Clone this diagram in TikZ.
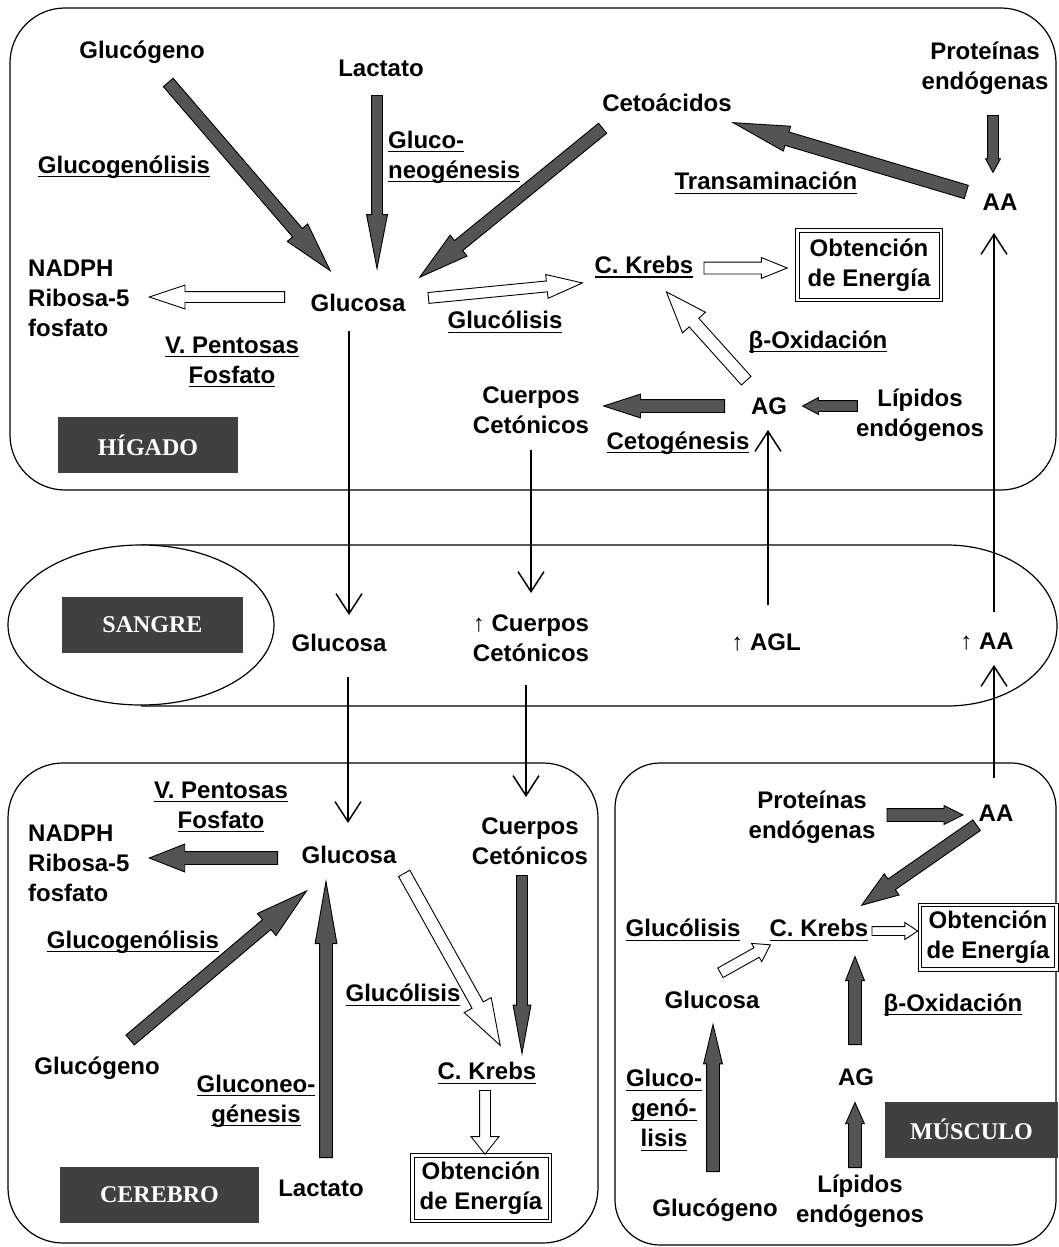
\documentclass[tikz,border=0pt]{standalone}
\usepackage{fontspec}
\setmainfont{Liberation Sans}
\newfontfamily\organfont{Liberation Serif}
\usetikzlibrary{shapes.arrows, arrows.meta, calc}

\definecolor{arrowgray}{gray}{0.33}
\definecolor{organgray}{gray}{0.25}

% underlined label text
\newcommand{\undl}[1]{{\setbox0\hbox{#1}\rlap{\rule[-4pt]{\wd0}{1.2pt}}\box0}}
% broad block arrow between two points
\newcommand{\fatarrow}[3][]{%
  \path let \p1=#2, \p2=#3, \n1={veclen(\x2-\x1,\y2-\y1)} in
    (\p1) -- node[pos=0, sloped, allow upside down, anchor=tail, #1, minimum height=\n1]{} (\p2);}

\tikzset{
  txt/.style={font=\fontsize{24}{30}\selectfont\bfseries, align=center, inner sep=1pt},
  organ/.style={fill=organgray, text=white, font=\organfont\fontsize{24}{28}\selectfont\bfseries,
                minimum height=56pt, inner sep=0pt},
  energy/.style={txt, draw, line width=1pt, double, double distance=2.5pt, inner sep=2pt},
  fat/.style n args={3}{single arrow, draw=black, line width=0.9pt, inner xsep=0pt,
                inner ysep=#1, single arrow head extend=#2, single arrow tip angle=#3},
  dk/.style={fill=arrowgray},
  wt/.style={fill=white},
  conn/.style={line width=1.5pt, -{Straight Barb[length=20pt, width=26pt, line width=1.5pt]}},
}

\begin{document}
\begin{tikzpicture}[x=1pt, y=-1pt]
\useasboundingbox (0,0) rectangle (1058,1247);

% compartments
\draw[line width=1.2pt, rounded corners=55pt] (10,8) rectangle (1056,490);
\draw[line width=1.2pt] (141,545) -- (947,545) .. controls (1008,545) and (1057,582) .. (1057,626)
      .. controls (1057,670) and (1008,706) .. (947,706) -- (141,706);
\draw[line width=1.2pt, fill=white] (141,625) ellipse [x radius=133pt, y radius=80pt];
\draw[line width=1.2pt, rounded corners=55pt] (8,763) rectangle (598,1243);
\draw[line width=1.2pt, rounded corners=45pt] (615,763) rectangle (1056,1245);

% higado
\node[txt] (gnoH) at (142,52) {Glucógeno};
\node[txt] (lacH) at (381,68) {Lactato};
\node[txt] (cetoH) at (667,103) {Cetoácidos};
\node[txt] (protH) at (985,68) {Proteínas\\endógenas};
\node[txt] (glaH) at (124,167) {\undl{Glucogenólisis}};
\node[txt, align=left, anchor=west] (gneH) at (387,157) {\undl{Gluco-}\\\undl{neogénesis}};
\node[txt] (traH) at (766,183) {\undl{Transaminación}};
\node[txt] (aaH) at (1000,202) {AA};
\node[txt, align=left, anchor=west] (nadH) at (27,298) {NADPH\\Ribosa-5\\fosfato};
\node[txt] (glcH) at (358,303) {Glucosa};
\node[txt] (krbH) at (644,267) {\undl{C. Krebs}};
\node[energy, minimum width=143.5pt, minimum height=69.5pt] (eneH) at (869,265) {Obtención\\de Energía};
\node[txt] (glyH) at (505,322) {\undl{Glucólisis}};
\node[txt] (vpfH) at (232,362) {\undl{V. Pentosas}\\\undl{Fosfato}};
\node[txt] (boxH) at (818,342) {\undl{β-Oxidación}};
\node[txt] (cueH) at (531,410) {Cuerpos\\Cetónicos};
\node[txt] (agH) at (769,406) {AG};
\node[txt] (lipH) at (920,415) {Lípidos\\endógenos};
\node[txt] (cgnH) at (678,443) {\undl{Cetogénesis}};
\node[organ, minimum width=180pt] (higado) at (148,445) {HÍGADO};

% sangre
\node[organ, minimum width=181pt] (sangre) at (152.5,625) {SANGRE};
\node[txt] (glcS) at (339,643) {Glucosa};
\node[txt] (cueS) at (531,638) {{\mdseries ↑} Cuerpos\\Cetónicos};
\node[txt] (aglS) at (766,642) {{\mdseries ↑} AGL};
\node[txt] (aaS) at (987,642) {{\mdseries ↑} AA};

% cerebro
\node[txt] (vpfC) at (221,807) {\undl{V. Pentosas}\\\undl{Fosfato}};
\node[txt, align=left, anchor=west] (nadC) at (27,863) {NADPH\\Ribosa-5\\fosfato};
\node[txt] (glcC) at (349,855) {Glucosa};
\node[txt] (cueC) at (530,841) {Cuerpos\\Cetónicos};
\node[txt] (glaC) at (133,942) {\undl{Glucogenólisis}};
\node[txt] (gnoC) at (97,1068) {Glucógeno};
\node[txt] (glyC) at (403,995) {\undl{Glucólisis}};
\node[txt] (gneC) at (256,1101) {\undl{Gluconeo-}\\\undl{génesis}};
\node[txt] (krbC) at (487,1073) {\undl{C. Krebs}};
\node[txt] (lacC) at (321,1188) {Lactato};
\node[energy, minimum width=137.5pt, minimum height=65.5pt] (eneC) at (481,1188) {Obtención\\de Energía};
\node[organ, minimum width=199pt] (cerebro) at (159.5,1195) {CEREBRO};

% musculo
\node[txt] (protM) at (812,817) {Proteínas\\endógenas};
\node[txt] (aaM) at (996,813) {AA};
\node[txt] (glyM) at (683,930) {\undl{Glucólisis}};
\node[txt] (krbM) at (819,930) {\undl{C. Krebs}};
\node[energy, minimum width=136.5pt, minimum height=64.5pt] (eneM) at (988,937) {Obtención\\de Energía};
\node[txt] (glcM) at (712,1000) {Glucosa};
\node[txt] (boxM) at (953,1005) {\undl{β-Oxidación}};
\node[txt] (gngM) at (664,1110) {\undl{Gluco-}\\\undl{genó-}\\\undl{lisis}};
\node[txt] (agM) at (856,1077) {AG};
\node[organ, minimum width=173pt] (musculo) at (971.5,1129.5) {MÚSCULO};
\node[txt] (gnoM) at (715,1210) {Glucógeno};
\node[txt] (lipM) at (860,1201) {Lípidos\\endógenos};

% block arrows, higado
\fatarrow[dk, fat={6pt}{7pt}{30}]{($(gnoH)!.12!(glcH)$)}{($(gnoH)!.87!(glcH)$)}
\fatarrow[dk, fat={5pt}{5pt}{22}]{($(lacH)+(-4,27)$)}{($(lacH |- glcH)+(-4,-35)$)}
\fatarrow[dk, fat={6pt}{7pt}{30}]{($(cetoH)+(-64,25)$)}{($(glcH)+(62,-26)$)}
\fatarrow[dk, fat={6.5pt}{6pt}{26}]{($(aaH)!.1!(cetoH)$)}{($(aaH)!.8!(cetoH)$)}
\fatarrow[dk, fat={5pt}{2pt}{57}]{($(protH)+(8,47)$)}{($(aaH)+(-7,-30)$)}
\fatarrow[wt, fat={5pt}{6.5pt}{37}]{($(glcH)+(-73,-6)$)}{($(nadH.east |- glcH)+(19,-6)$)}
\fatarrow[wt, fat={5pt}{6.5pt}{37}]{($(glcH)+(70,-5)$)}{($(krbH)+(-62,16)$)}
\fatarrow[wt, fat={5.5pt}{4.5pt}{44}]{($(krbH.east)+(9,1)$)}{($(eneH.west |- krbH)+(-10,1)$)}
\fatarrow[wt, fat={6pt}{9pt}{41}]{($(agH)!.18!(krbH)$)}{($(agH)!.82!(krbH)$)}
\fatarrow[dk, fat={5pt}{3pt}{56}]{($(lipH.west |- agH)+(3,0)$)}{($(agH)+(34,0)$)}
\fatarrow[dk, fat={6pt}{5.5pt}{36}]{($(agH)+(-44,0)$)}{($(cueH.east |- agH)+(14,0)$)}

% block arrows, cerebro
\fatarrow[dk, fat={6pt}{7.5pt}{43}]{($(glcC)+(-71,3)$)}{($(nadC.east |- glcC)+(19,3)$)}
\fatarrow[dk, fat={6pt}{8pt}{31}]{($(gnoC)!.13!(glcC)$)}{($(gnoC)!.83!(glcC)$)}
\fatarrow[dk, fat={6pt}{4.5pt}{20}]{($(lacC)+(5,-30)$)}{($(lacC |- glcC)+(5,27)$)}
\fatarrow[wt, fat={6pt}{9pt}{37}]{($(glcC)+(55,18)$)}{($(krbC)+(13,-28)$)}
\fatarrow[dk, fat={5pt}{3.5pt}{21}]{($(cueC)+(-8,34)$)}{($(cueC |- krbC)+(-8,-20)$)}
\fatarrow[wt, fat={5pt}{8.5pt}{77}]{($(krbC)+(-2,17)$)}{($(krbC |- eneC.north)+(-2,-1)$)}

% block arrows, musculo
\fatarrow[dk, fat={6pt}{3pt}{53}]{($(protM.east)+(10,-2)$)}{($(aaM.west |- protM)+(-15,-2)$)}
\fatarrow[dk, fat={6pt}{6.5pt}{39}]{($(aaM)+(-19,12)$)}{($(krbM)+(43,-25)$)}
\fatarrow[wt, fat={4pt}{4pt}{67}]{($(krbM.east)+(2,1)$)}{($(eneM.west |- krbM)+(-2,1)$)}
\fatarrow[wt, fat={5pt}{5pt}{67}]{($(glcM)+(8,-27)$)}{($(krbM)+(-49,15)$)}
\fatarrow[dk, fat={6pt}{3pt}{43}]{($(agM)+(-1,-32)$)}{($(agM |- krbM)+(-1,27)$)}
\fatarrow[dk, fat={6pt}{3pt}{27}]{($(gnoM)+(-2,-38)$)}{($(gnoM |- glcM)+(-2,25)$)}
\fatarrow[dk, fat={6pt}{3pt}{48}]{($(lipM)+(-5,-33)$)}{($(agM)+(-1,26)$)}

% transport through blood
\draw[conn] ($(glcH)+(-9,28)$) -- ($(glcH |- glcS)+(-9,-28)$);
\draw[conn] ($(cueH)+(0,40)$) -- ($(cueH |- cueS)+(0,-45)$);
\draw[conn] ($(aglS)+(2,-37)$) -- ($(aglS |- agH)+(2,24)$);
\draw[conn] ($(aaS)+(7,-30)$) -- ($(aaS |- aaH)+(7,31)$);
\draw[conn] ($(glcS)+(9,34)$) -- ($(glcS |- glcC)+(9,-32)$);
\draw[conn] ($(cueS)+(-5,47)$) -- ($(cueS |- cueC)+(-5,-44)$);
\draw[conn] ($(aaM)+(-2,-35)$) -- ($(aaM |- aaS)+(-2,23)$);
\end{tikzpicture}
\end{document}
